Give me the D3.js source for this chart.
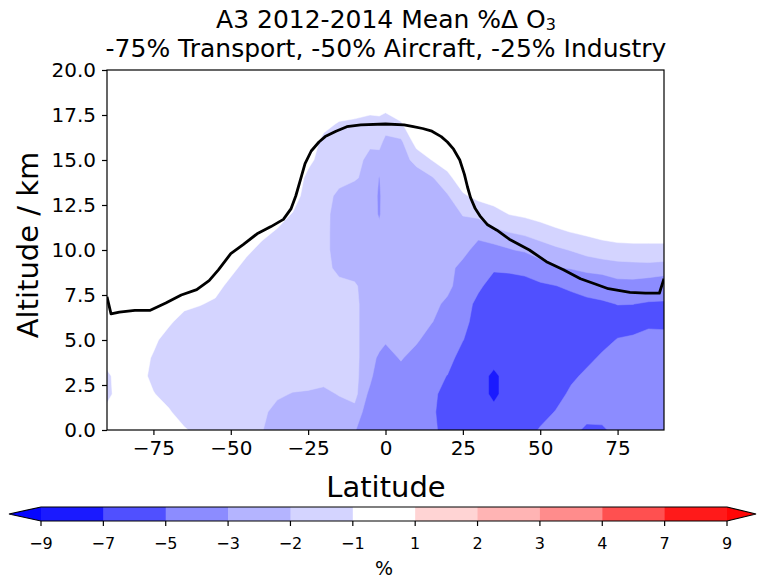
<!DOCTYPE html>
<html>
<head>
<meta charset="utf-8">
<script src="https://cdn.jsdelivr.net/npm/d3@7"></script>
<style>
  body { margin: 0; background: #fff; }
  text { font-family: "DejaVu Sans", sans-serif; fill: #000; }
</style>
</head>
<body>
<svg id="chart" width="757" height="578"></svg>
<script>
// latitude columns of the field (deg) and altitude rows (km)
var lats = [-90,-85,-80,-75,-70,-65,-60,-55,-50,-45,-40,-35,-30,-25,-20,-15,-10,-5,-2,0,5,10,15,20,25,30,35,40,45,50,55,60,65,70,75,80,85,90];
var alts = [0,1,2,3,4,5,6,7,8,9,10,11,12,13,14,15,16,17,18,19,20];

// mean % change in O3, one column per latitude, 0 km -> 20 km
var dO3 = [
  [-0.3,-0.7,-1.3,-1.2,-0.6,-0.2,0,0,0,0,0,0,0,0,0,0,0,0,0,0,0],
  [-0.2,-0.3,-0.4,-0.45,-0.4,-0.3,-0.2,0,0,0,0,0,0,0,0,0,0,0,0,0,0],
  [-0.3,-0.4,-0.55,-0.6,-0.55,-0.45,-0.3,-0.2,0,0,0,0,0,0,0,0,0,0,0,0,0],
  [-0.5,-0.8,-0.95,-1.25,-1.1,-0.8,-0.5,-0.3,-0.1,0,0,0,0,0,0,0,0,0,0,0,0],
  [-0.6,-0.9,-1.35,-1.5,-1.5,-1.4,-0.85,-0.6,-0.3,0,0,0,0,0,0,0,0,0,0,0,0],
  [-0.9,-1.45,-1.5,-1.5,-1.5,-1.5,-1.4,-0.75,-0.4,-0.2,0,0,0,0,0,0,0,0,0,0,0],
  [-1.3,-1.5,-1.5,-1.5,-1.5,-1.5,-1.45,-0.95,-0.5,-0.2,0,0,0,0,0,0,0,0,0,0,0],
  [-1.5,-1.5,-1.5,-1.5,-1.5,-1.5,-1.5,-1.15,-0.7,-0.35,-0.1,0,0,0,0,0,0,0,0,0,0],
  [-1.5,-1.5,-1.5,-1.5,-1.5,-1.5,-1.5,-1.5,-1.25,-0.75,-0.35,-0.1,0,0,0,0,0,0,0,0,0],
  [-1.5,-1.5,-1.5,-1.5,-1.5,-1.5,-1.5,-1.5,-1.5,-1.3,-0.8,-0.4,-0.1,0,0,0,0,0,0,0,0],
  [-1.95,-1.8,-1.5,-1.5,-1.5,-1.5,-1.5,-1.5,-1.5,-1.5,-1.25,-0.75,-0.35,-0.1,0,0,0,0,0,0,0],
  [-2.45,-2.3,-1.85,-1.5,-1.5,-1.5,-1.5,-1.5,-1.5,-1.5,-1.5,-1.1,-0.6,-0.3,0,0,0,0,0,0,0],
  [-2.5,-2.45,-2.05,-1.55,-1.5,-1.5,-1.5,-1.5,-1.5,-1.5,-1.5,-1.5,-1.05,-0.5,-0.2,0,0,0,0,0,0],
  [-2.5,-2.45,-2.1,-1.6,-1.5,-1.5,-1.5,-1.5,-1.5,-1.5,-1.5,-1.5,-1.5,-1.5,-1.3,-0.7,-0.3,-0.1,0,0,0],
  [-2.5,-2.5,-2.2,-1.7,-1.5,-1.5,-1.5,-1.5,-1.5,-1.5,-1.5,-1.5,-1.5,-1.5,-1.5,-1.5,-1.3,-0.7,-0.3,0,0],
  [-2.5,-2.4,-1.95,-1.5,-1.5,-1.5,-1.5,-1.5,-1.6,-2.4,-2.75,-2.75,-2.7,-2.3,-1.6,-1.5,-1.5,-1.1,-0.4,-0.1,0],
  [-2.9,-2.3,-1.7,-1.75,-1.75,-1.75,-1.75,-1.75,-1.85,-2.5,-2.6,-2.6,-2.6,-2.5,-1.9,-1.5,-1.5,-1.2,-0.5,-0.1,0],
  [-4.0,-3.7,-3.3,-2.7,-2.6,-2.6,-2.6,-2.6,-2.6,-2.6,-2.6,-2.5,-2.3,-2.3,-2.3,-2.4,-1.75,-1.5,-0.5,-0.2,0],
  [-4.2,-4.2,-4.1,-3.8,-3.2,-2.6,-2.6,-2.6,-2.6,-2.6,-2.6,-2.65,-3.15,-3.2,-3.05,-2.4,-1.7,-1.4,-0.5,-0.2,0],
  [-4.3,-4.3,-4.2,-4.0,-3.7,-2.8,-2.6,-2.6,-2.6,-2.6,-2.6,-2.6,-2.3,-2.3,-2.3,-2.5,-2.3,-1.5,-0.7,-0.3,0],
  [-4.3,-4.2,-4.0,-3.7,-2.85,-2.6,-2.6,-2.6,-2.6,-2.6,-2.6,-2.6,-2.6,-2.6,-2.55,-2.5,-2.2,-1.1,-0.4,-0.1,0],
  [-4.4,-4.4,-4.3,-4.1,-3.75,-2.75,-2.6,-2.6,-2.6,-2.6,-2.6,-2.6,-2.6,-2.55,-2.6,-1.65,-0.6,-0.25,-0.1,0,0],
  [-4.6,-4.8,-4.7,-4.4,-4.2,-3.9,-2.95,-2.6,-2.6,-2.6,-2.6,-2.6,-2.6,-2.5,-2.1,-0.98,-0.4,-0.1,0,0,0],
  [-5.7,-5.6,-5.5,-5.05,-4.2,-4.0,-3.8,-3.3,-2.6,-2.6,-2.6,-2.6,-2.5,-2.1,-1.3,-0.5,-0.2,0,0,0,0],
  [-6,-6,-6,-5.9,-5.9,-4.95,-4.3,-4.0,-3.8,-3.4,-2.6,-2.4,-1.95,-1.15,-0.4,-0.1,0,0,0,0,0],
  [-6,-6,-6.2,-6.2,-6,-6,-6,-5.6,-4.6,-4.0,-3.5,-2.6,-1.8,-0.7,-0.3,-0.1,0,0,0,0,0],
  [-6.1,-6.5,-7.4,-7.4,-6.3,-6,-6,-6,-5.9,-4.75,-3.4,-2.2,-1.4,-0.5,-0.2,0,0,0,0,0,0],
  [-6,-6.1,-6.2,-6.2,-6.1,-6,-6,-6,-5.75,-4.7,-3.1,-1.98,-0.97,-0.4,-0.1,0,0,0,0,0,0],
  [-6,-6,-6,-6,-6,-6,-6,-6,-5.55,-4.55,-2.8,-1.8,-0.8,-0.3,-0.1,0,0,0,0,0,0],
  [-4.8,-5.8,-6,-6,-6,-6,-6,-6,-5.4,-3.5,-2.5,-1.5,-0.6,-0.2,0,0,0,0,0,0,0],
  [-4.4,-4.9,-5.8,-6,-6,-6,-6,-6,-5.05,-3.1,-2.2,-1.2,-0.4,-0.1,0,0,0,0,0,0,0],
  [-4.5,-4.3,-4.6,-5.4,-6,-6,-6,-5.9,-4.6,-2.9,-1.95,-0.98,-0.4,-0.1,0,0,0,0,0,0,0],
  [-5.3,-4.4,-4.3,-4.6,-5.5,-6,-6,-5.5,-4.2,-2.6,-1.7,-0.8,-0.3,-0.1,0,0,0,0,0,0,0],
  [-5.2,-4.5,-4.3,-4.4,-4.7,-5.6,-6,-5.3,-3.9,-2.5,-1.5,-0.6,-0.2,0,0,0,0,0,0,0,0],
  [-4.6,-4.4,-4.3,-4.3,-4.5,-4.9,-5.9,-4.95,-3.4,-2.4,-1.35,-0.5,-0.2,0,0,0,0,0,0,0,0],
  [-4.3,-4.3,-4.2,-4.2,-4.4,-4.7,-5.8,-4.98,-3.4,-2.35,-1.3,-0.5,-0.2,0,0,0,0,0,0,0,0],
  [-4.2,-4.2,-4.2,-4.2,-4.3,-4.6,-5.25,-5.2,-3.6,-2.3,-1.3,-0.5,-0.2,0,0,0,0,0,0,0,0],
  [-4.2,-4.2,-4.2,-4.2,-4.3,-4.6,-5.3,-5.25,-3.8,-2.4,-1.3,-0.5,-0.2,0,0,0,0,0,0,0,0]
];

// tropopause (black line)
var tpLat = [-90,-88.7,-86,-81,-76,-71,-66,-61,-57,-54,-50,-46,-41.5,-37,-33,-30.5,-29,-27.5,-26,-24,-21.5,-19.5,-16,-12.5,-8,0,6,9,12,15,18,20,22,24,25.5,26.5,27.5,29,30.5,33,36,40,46.5,52,57.5,63,68,72,79,84,88.5,90];
var tpAlt = [7.4,6.45,6.55,6.65,6.65,7.05,7.5,7.8,8.3,8.9,9.8,10.3,10.9,11.3,11.7,12.3,13.0,13.9,14.8,15.5,16.0,16.3,16.6,16.85,16.95,17.0,16.95,16.85,16.75,16.6,16.3,16.0,15.6,15.0,14.2,13.5,12.9,12.3,11.9,11.4,11.1,10.6,10.0,9.35,8.9,8.4,8.1,7.85,7.65,7.6,7.6,8.4];

// contour levels and colours
var levels = [-9,-7,-5,-3,-2,-1,1,2,3,4,7,9];
var levelColors = ["#1a1aff","#5050ff","#8c8cff","#b4b4ff","#d4d4ff","#ffffff","#ffd4d4","#ffb4b4","#ff8c8c","#ff5050","#ff1a1a"];
var underColor = "#0606ff", overColor = "#ff0606";

var xTicks = [-75,-50,-25,0,25,50,75];
var yTicks = [0,2.5,5,7.5,10,12.5,15,17.5,20];

(function() {
  var svg = d3.select("#chart");
  var pL = 107, pR = 664, pT = 70, pB = 430;

  var x = d3.scaleLinear().domain([-90, 90]).range([pL, pR]);
  var y = d3.scaleLinear().domain([0, 20]).range([pB, pT]);

  // grid index -> lat / alt
  var latIdx = d3.scaleLinear().domain(d3.range(lats.length)).range(lats).clamp(true);
  var altIdx = d3.scaleLinear().domain(d3.range(alts.length)).range(alts).clamp(true);

  var n = lats.length, m = alts.length;
  var values = new Array(n * m);
  for (var j = 0; j < m; j++) {
    for (var i = 0; i < n; i++) {
      values[i + j * n] = dO3[i][j];
    }
  }

  var proj = d3.geoTransform({
    point: function(px, py) {
      this.stream.point(x(latIdx(px - 0.5)), y(altIdx(py - 0.5)));
    }
  });
  var path = d3.geoPath(proj);

  svg.append("clipPath").attr("id", "plotclip")
    .append("rect").attr("x", pL).attr("y", pT).attr("width", pR - pL).attr("height", pB - pT);

  var plot = svg.append("g").attr("clip-path", "url(#plotclip)");
  plot.append("rect").attr("x", pL).attr("y", pT).attr("width", pR - pL).attr("height", pB - pT).attr("fill", "#fff");

  var bandColor = function(d) {
    var k = levels.indexOf(d.value);
    return k < levelColors.length ? levelColors[k] : overColor;
  };
  var contours = d3.contours().size([n, m]).thresholds(levels)(values);
  plot.selectAll("path.band")
    .data(contours)
    .enter().append("path")
    .attr("class", "band")
    .attr("d", path)
    .attr("fill", bandColor)
    .attr("stroke", bandColor)
    .attr("stroke-width", 0.5);

  var tp = tpLat.map(function(d, i) { return [d, tpAlt[i]]; });
  plot.append("path")
    .attr("d", d3.line().x(function(d) { return x(d[0]); }).y(function(d) { return y(d[1]); })(tp))
    .attr("fill", "none")
    .attr("stroke", "#000")
    .attr("stroke-width", 2.8)
    .attr("stroke-linejoin", "round");

  // frame
  svg.append("rect").attr("x", pL).attr("y", pT).attr("width", pR - pL).attr("height", pB - pT)
    .attr("fill", "none").attr("stroke", "#000").attr("stroke-width", 1.2);

  var minus = function(v) { return v < 0 ? "\u2212" + Math.abs(v) : "" + v; };

  var xAxis = svg.append("g").attr("transform", "translate(0," + pB + ")")
    .call(d3.axisBottom(x).tickValues(xTicks).tickSize(5).tickSizeOuter(0).tickPadding(6).tickFormat(minus));
  var yAxis = svg.append("g").attr("transform", "translate(" + pL + ",0)")
    .call(d3.axisLeft(y).tickValues(yTicks).tickSize(5).tickSizeOuter(0).tickPadding(6).tickFormat(d3.format(".1f")));
  [xAxis, yAxis].forEach(function(a) {
    a.select(".domain").remove();
    a.selectAll(".tick line").attr("stroke", "#000").attr("stroke-width", 1.2);
    a.selectAll(".tick text").attr("font-size", 20).attr("font-family", "DejaVu Sans").attr("fill", "#000");
  });

  // titles
  var t1 = svg.append("text").attr("x", 386).attr("y", 28).attr("text-anchor", "middle").attr("font-size", 25);
  t1.append("tspan").text("A3 2012-2014 Mean %\u0394 O");
  t1.append("tspan").attr("font-size", 16).attr("dy", 2).text("3");
  svg.append("text").attr("x", 386).attr("y", 57).attr("text-anchor", "middle").attr("font-size", 25)
    .text("-75% Transport, -50% Aircraft, -25% Industry");

  svg.append("text").attr("x", 386).attr("y", 497).attr("text-anchor", "middle").attr("font-size", 29).text("Latitude");
  svg.append("text").attr("transform", "translate(38,245) rotate(-90)").attr("text-anchor", "middle").attr("font-size", 29).text("Altitude / km");

  // colour bar
  var cbTop = 507, cbBot = 521, cbMid = (cbTop + cbBot) / 2;
  var cbx = d3.scaleLinear().domain([0, levels.length - 1]).range([41, 727]);
  var cb = svg.append("g");
  levelColors.forEach(function(c, i) {
    cb.append("rect").attr("x", cbx(i)).attr("y", cbTop).attr("width", cbx(i + 1) - cbx(i) + 0.5).attr("height", cbBot - cbTop).attr("fill", c);
  });
  var last = cbx(levels.length - 1);
  cb.append("path").attr("d", "M" + cbx(0) + "," + cbTop + "L9," + cbMid + "L" + cbx(0) + "," + cbBot + "Z").attr("fill", underColor);
  cb.append("path").attr("d", "M" + last + "," + cbTop + "L756," + cbMid + "L" + last + "," + cbBot + "Z").attr("fill", overColor);
  cb.append("path")
    .attr("d", "M" + cbx(0) + "," + cbTop + "L" + last + "," + cbTop + "L756," + cbMid + "L" + last + "," + cbBot + "L" + cbx(0) + "," + cbBot + "L9," + cbMid + "Z")
    .attr("fill", "none").attr("stroke", "#000").attr("stroke-width", 1.2);
  levels.forEach(function(v, i) {
    cb.append("line").attr("x1", cbx(i)).attr("x2", cbx(i)).attr("y1", cbBot).attr("y2", cbBot + 5).attr("stroke", "#000").attr("stroke-width", 1.2);
    cb.append("text").attr("x", cbx(i)).attr("y", 549).attr("text-anchor", "middle").attr("font-size", 16).text(minus(v));
  });
  svg.append("text").attr("x", 384).attr("y", 575).attr("text-anchor", "middle").attr("font-size", 19).text("%");
})();
</script>
</body>
</html>
